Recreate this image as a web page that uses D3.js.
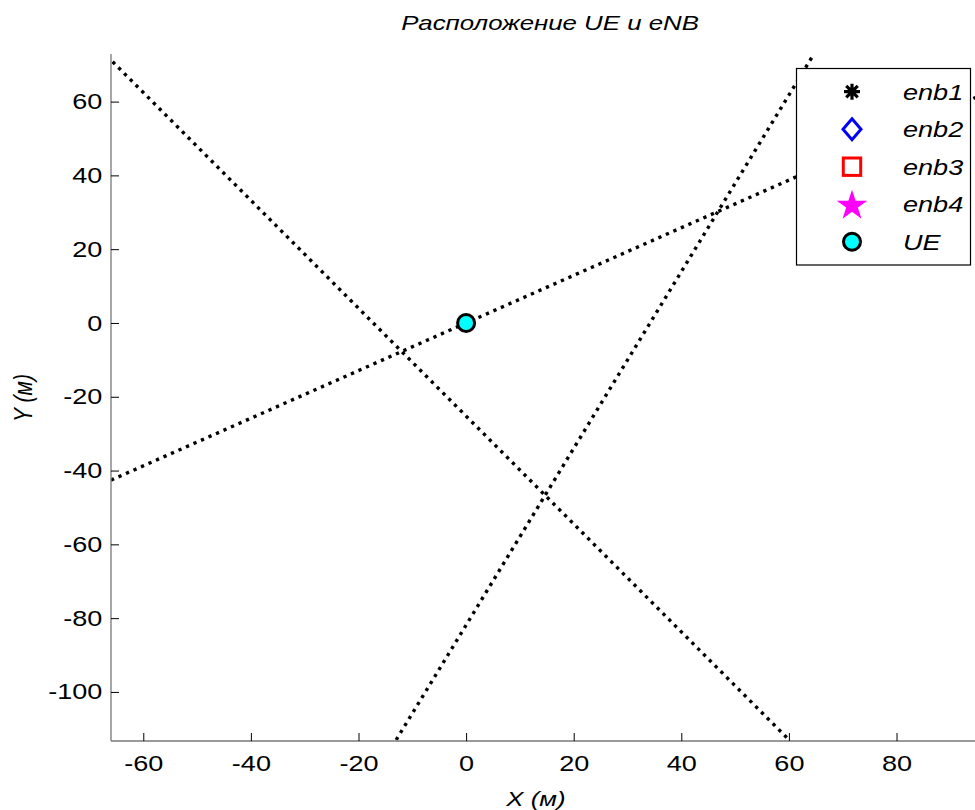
<!DOCTYPE html>
<html><head><meta charset="utf-8">
<script src="https://cdn.jsdelivr.net/npm/d3@7"></script>
<style>body{margin:0;background:#fff;overflow:hidden}</style>
</head><body>
<script>
// ---- data ----
const xTicks = [-60, -40, -20, 0, 20, 40, 60, 80];
const yTicks = [-100, -80, -60, -40, -20, 0, 20, 40, 60];
const lineStartX = [-65.7, -66.0, -13.0];
const lineStartY = [70.8, -42.6, -113.0];
const lineEndX   = [59.9, 97.0, 64.6];
const lineEndY   = [-112.8, 62.6, 72.8];
const ueX = [0];
const ueY = [0];
const legendLabels = ["enb1", "enb2", "enb3", "enb4", "UE"];
const legendColors = ["#000000", "#0000ff", "#ff0000", "#ff00ff", "#00ffff"];
const titleText = "Расположение UE и eNB";
const xLabelText = "X (м)";
const yLabelText = "Y (м)";

const W = 975, H = 810;
const SX = 1.23; // horizontal stretch of text in reference
const svg = d3.select("body").append("svg").attr("width", W).attr("height", H)
  .style("font-family", "'Liberation Sans', Arial, sans-serif");

const x = d3.scaleLinear().domain([-66, 97.3]).range([111, 989.6]);
const y = d3.scaleLinear().domain([-113.3, 72.9]).range([741, 54]);

svg.append("clipPath").attr("id", "clip").append("rect")
  .attr("x", 111).attr("y", 54).attr("width", 878.6).attr("height", 687);

// lines
const lineData = lineStartX.map((d, i) => [[lineStartX[i], lineStartY[i]], [lineEndX[i], lineEndY[i]]]);
svg.append("g").attr("clip-path", "url(#clip)").selectAll("path").data(lineData).join("path")
  .attr("d", d3.line().x(d => x(d[0])).y(d => y(d[1])))
  .attr("fill", "none").attr("stroke", "#000").attr("stroke-width", 3.4)
  .attr("stroke-dasharray", "3.3 4.9");

// UE point
svg.append("g").selectAll("circle").data(ueX).join("circle")
  .attr("cx", (d, i) => x(ueX[i])).attr("cy", (d, i) => y(ueY[i])).attr("r", 8.5)
  .attr("fill", "#00ffff").attr("stroke", "#000").attr("stroke-width", 3);

// axes
const fontTick = 22;
const fmt = d => String(d);
const gx = svg.append("g").attr("transform", `translate(0,${741})`)
  .call(d3.axisBottom(x).tickValues(xTicks).tickFormat(fmt).tickSizeInner(-8).tickSizeOuter(0).tickPadding(14));
const gy = svg.append("g").attr("transform", `translate(${111},0)`)
  .call(d3.axisLeft(y).tickValues(yTicks).tickFormat(fmt).tickSizeInner(-8).tickSizeOuter(0).tickPadding(7));
[gx, gy].forEach(g => {
  g.select(".domain").attr("stroke", "#777").attr("stroke-width", 1.3);
  g.selectAll(".tick line").attr("stroke", "#000").attr("stroke-width", 1);
  g.selectAll(".tick text").attr("font-size", fontTick).attr("fill", "#000")
    .attr("font-family", "'Liberation Sans', Arial, sans-serif");
});
gx.selectAll(".tick text").attr("transform", `scale(${SX},1)`);
gy.selectAll(".tick text").attr("transform", `scale(${SX},1)`);
gx.select(".domain").attr("d", `M111,0H975`);
gy.select(".domain").attr("d", `M0,54V741`);

// title & labels
svg.append("text").attr("transform", `translate(550,30) scale(${SX},1)`)
  .attr("text-anchor", "middle").attr("font-size", 21).attr("font-style", "italic").text(titleText);
svg.append("text").attr("transform", `translate(536,806) scale(${SX},1)`)
  .attr("text-anchor", "middle").attr("font-size", 21).attr("font-style", "italic").text(xLabelText);
svg.append("text").attr("transform", `translate(32,398) scale(${SX},1) rotate(-90)`)
  .attr("text-anchor", "middle").attr("font-size", 21).attr("font-style", "italic").text(yLabelText);

// legend
const lg = svg.append("g");
lg.append("rect").attr("x", 796.5).attr("y", 68.5).attr("width", 174).attr("height", 196.5)
  .attr("fill", "#fff").attr("stroke", "#000").attr("stroke-width", 1.2);
const mx = 852, rowY = i => 91.7 + i * 37.5;
legendLabels.forEach((lab, i) => {
  const cy = rowY(i);
  const g = lg.append("g").attr("transform", `translate(${mx},${cy})`);
  const c = legendColors[i];
  if (i === 0) {
    const r = 8;
    const d = `M${-r},0H${r}M0,${-r}V${r}M${-r*0.72},${-r*0.72}L${r*0.72},${r*0.72}M${-r*0.72},${r*0.72}L${r*0.72},${-r*0.72}`;
    g.append("path").attr("d", d).attr("stroke", c).attr("stroke-width", 3.2).attr("fill", "none");
  } else if (i === 1) {
    g.append("path").attr("d", "M0,-10.5L9,0L0,10.5L-9,0Z").attr("fill", "none").attr("stroke", c).attr("stroke-width", 3);
  } else if (i === 2) {
    g.append("rect").attr("x", -8.7).attr("y", -8.7).attr("width", 17.4).attr("height", 17.4)
      .attr("fill", "none").attr("stroke", c).attr("stroke-width", 3);
  } else if (i === 3) {
    g.append("path").attr("d", d3.symbol().type(d3.symbolStar).size(290)()).attr("fill", c)
      .attr("transform", "translate(0,1.5)");
  } else {
    g.append("circle").attr("r", 8.5).attr("fill", c).attr("stroke", "#000").attr("stroke-width", 3);
  }
  lg.append("text").attr("transform", `translate(903,${cy + 8}) scale(${SX},1)`)
    .attr("font-size", 22).attr("font-style", "italic").text(lab);
});
</script>
</body></html>
